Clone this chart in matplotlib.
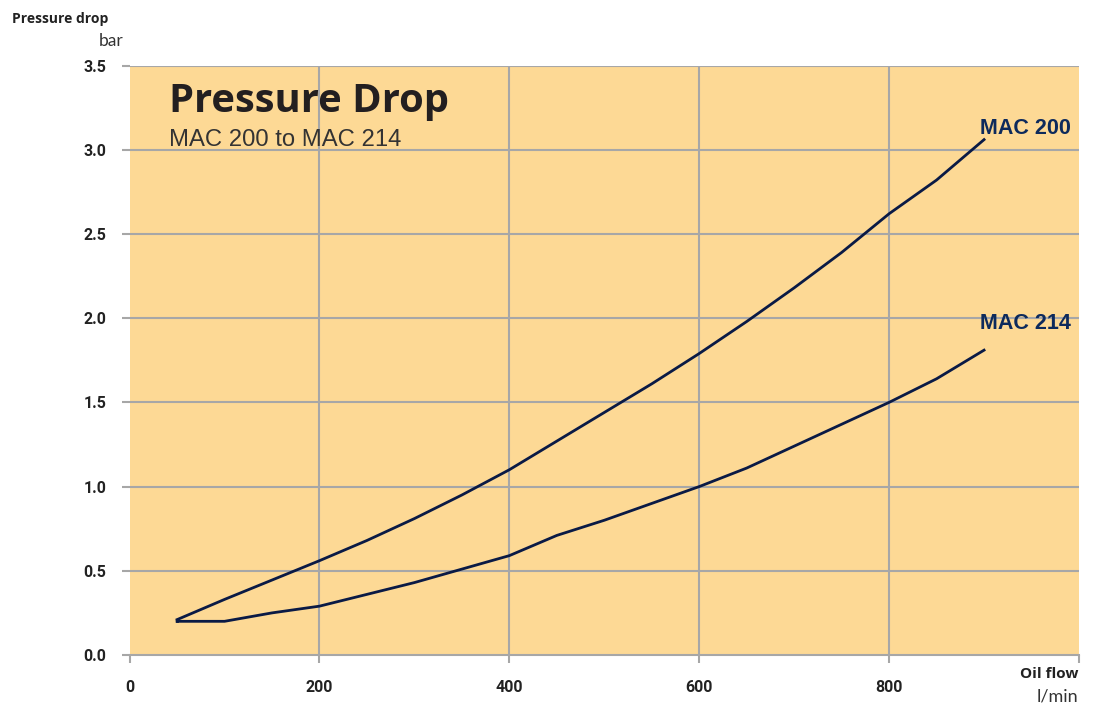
import matplotlib
matplotlib.use("Agg")
import matplotlib.pyplot as plt

# Data
flow = [50, 100, 150, 200, 250, 300, 350, 400, 450, 500, 550, 600, 650, 700, 750, 800, 850, 900]
mac200 = [0.21, 0.33, 0.445, 0.56, 0.68, 0.81, 0.95, 1.10, 1.27, 1.44, 1.61, 1.79, 1.98, 2.18, 2.39, 2.62, 2.82, 3.06]
mac214 = [0.20, 0.20, 0.25, 0.29, 0.36, 0.43, 0.51, 0.59, 0.71, 0.80, 0.90, 1.00, 1.11, 1.24, 1.37, 1.50, 1.64, 1.81]
xticks = [0, 200, 400, 600, 800]
yticks = [0.0, 0.5, 1.0, 1.5, 2.0, 2.5, 3.0, 3.5]

W, H = 1105, 709
fig = plt.figure(figsize=(W/100, H/100), dpi=100)
l, r, b, t = 129.6, 1079, 655, 65.5
ax = fig.add_axes([l/W, 1-b/H, (r-l)/W, (b-t)/H])
ax.set_facecolor("#FDD995")
ax.set_xlim(0, 1000)
ax.set_ylim(0, 3.5)

grid_c = "#a7a7a7"
for s in ax.spines.values():
    s.set_visible(False)
ax.spines["bottom"].set_visible(True)
ax.spines["bottom"].set_color(grid_c)
ax.spines["bottom"].set_linewidth(1.5)

ax.set_yticks(yticks)
ax.set_yticklabels([f"{v:.1f}" for v in yticks])
ax.set_xticks(xticks + [1000])
ax.set_xticklabels([str(v) for v in xticks] + [""])
ax.tick_params(axis="y", length=5.8, width=1.5, color=grid_c, pad=11, labelsize=11.5)
ax.tick_params(axis="x", length=5.8, width=1.5, color=grid_c, pad=12, labelsize=11.5)
for lab in ax.get_xticklabels() + ax.get_yticklabels():
    lab.set_fontweight("bold")
    lab.set_color("#222222")
    lab.set_family("Roboto")
for y in yticks[1:]:
    ax.axhline(y, color=grid_c, lw=1.5, zorder=1)
for x in xticks[1:]:
    ax.axvline(x, color=grid_c, lw=1.5, zorder=1)

line_c = "#0a1a45"
ax.plot(flow, mac200, color=line_c, lw=2, zorder=3)
ax.plot(flow, mac214, color=line_c, lw=2, zorder=3)
ax.plot([flow[0], flow[0]], [mac214[0], mac200[0]], color=line_c, lw=2, zorder=3)

def px(x, y):
    return x/W, 1-y/H

lab_c = "#0d2a5c"
fig.text(*px(1071, 128), "MAC 200", ha="right", va="center", fontsize=15.5,
         fontweight="bold", color=lab_c, family="Liberation Sans")
fig.text(*px(1071, 324), "MAC 214", ha="right", va="center", fontsize=15.5,
         fontweight="bold", color=lab_c, family="Liberation Sans")

fig.text(*px(169, 112), "Pressure Drop", ha="left", va="baseline", fontsize=28.7,
         fontweight="bold", color="#231f20", family="Open Sans")
fig.text(*px(169, 146), "MAC 200 to MAC 214", ha="left", va="baseline", fontsize=17.2,
         color="#333333", family="Liberation Sans")

fig.text(*px(12, 19), "Pressure drop", ha="left", va="center", fontsize=10,
         fontweight="bold", color="#222222", family="Open Sans")
fig.text(*px(124, 41), "bar", ha="right", va="center", fontsize=12.5,
         color="#333333", family="Lato")
fig.text(*px(1078, 674), "Oil flow", ha="right", va="center", fontsize=11,
         fontweight="bold", color="#222222", family="Open Sans")
fig.text(*px(1078, 697), "l/min", ha="right", va="center", fontsize=13,
         color="#333333", family="Lato")

fig.savefig("out.png", dpi=100, facecolor="white")
